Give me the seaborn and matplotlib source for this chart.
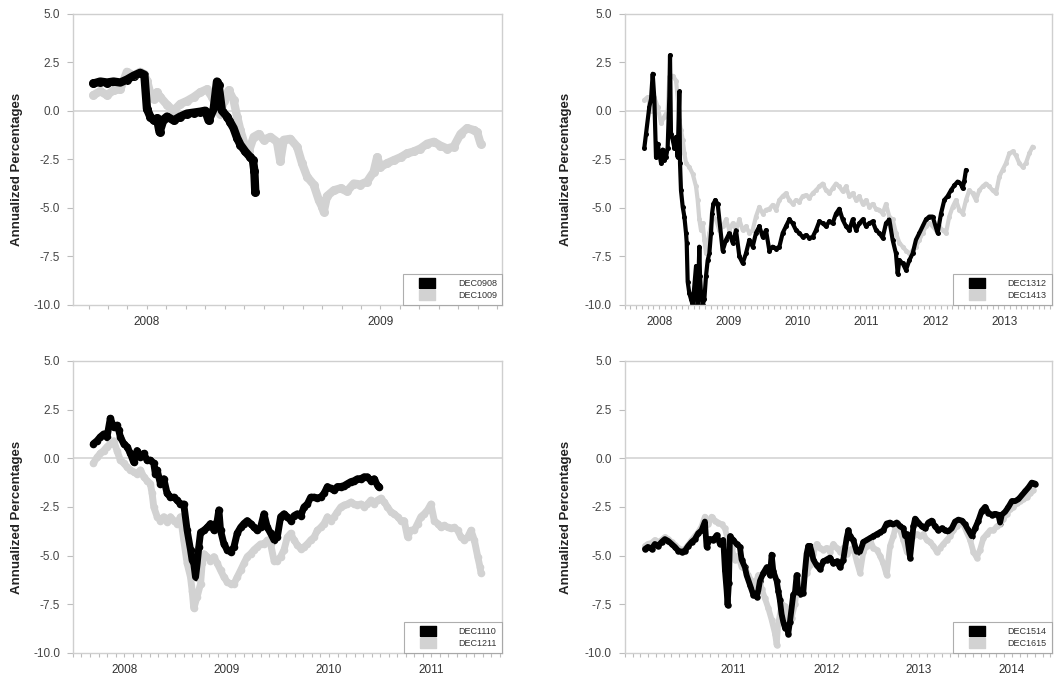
import matplotlib
matplotlib.use("Agg")
import matplotlib.pyplot as plt
import seaborn as sns
import pandas as pd
from matplotlib.lines import Line2D
from matplotlib.ticker import FixedLocator, FuncFormatter, NullFormatter

sns.set_theme(style="white")
plt.rcParams['font.family'] = ['Liberation Sans', 'DejaVu Sans']

# spreads, annualized %, x in decimal years
dec0908 = [(2008.271, 1.4), (2008.300, 1.5), (2008.329, 1.45), (2008.357, 1.5), (2008.386, 1.45),
           (2008.414, 1.6), (2008.443, 1.8), (2008.471, 1.95), (2008.489, 1.85), (2008.500, 0.1),
           (2008.514, -0.3), (2008.529, -0.5), (2008.543, -0.4), (2008.554, -1.1), (2008.571, -0.45),
           (2008.586, -0.3), (2008.614, -0.5), (2008.643, -0.3), (2008.671, -0.15), (2008.700, -0.1),
           (2008.729, -0.05), (2008.750, 0.0), (2008.764, -0.5), (2008.786, 0.1), (2008.800, 1.5),
           (2008.807, 1.3), (2008.821, 0.0), (2008.843, -0.3), (2008.857, -0.6), (2008.871, -0.9),
           (2008.886, -1.4), (2008.900, -1.75), (2008.921, -2.1), (2008.943, -2.4), (2008.954, -2.55),
           (2008.960, -3.1), (2008.964, -4.2)]
dec1009 = [(2008.271, 0.8), (2008.300, 1.0), (2008.329, 0.8), (2008.357, 1.05), (2008.386, 1.1),
           (2008.414, 2.0), (2008.443, 1.8), (2008.471, 2.0), (2008.486, 1.9), (2008.500, 1.55),
           (2008.514, 0.9), (2008.529, 0.6), (2008.543, 0.95), (2008.557, 0.7), (2008.586, 0.3),
           (2008.614, 0.0), (2008.643, 0.35), (2008.671, 0.5), (2008.700, 0.7), (2008.729, 0.95),
           (2008.757, 1.1), (2008.779, 0.7), (2008.800, 0.2), (2008.814, -0.15), (2008.829, 0.5),
           (2008.850, 1.05), (2008.871, 0.55), (2008.886, -0.3), (2008.900, -1.0), (2008.921, -1.85),
           (2008.936, -2.1), (2008.957, -1.35), (2008.979, -1.2), (2009.000, -1.5), (2009.029, -1.35),
           (2009.057, -1.6), (2009.071, -2.6), (2009.086, -1.5), (2009.114, -1.45), (2009.143, -1.85),
           (2009.164, -2.7), (2009.186, -3.4), (2009.214, -3.8), (2009.236, -4.6), (2009.250, -4.95),
           (2009.257, -5.2), (2009.271, -4.4), (2009.300, -4.1), (2009.329, -4.0), (2009.357, -4.15),
           (2009.386, -3.75), (2009.414, -3.8), (2009.443, -3.65), (2009.471, -3.15), (2009.486, -2.4),
           (2009.500, -2.9), (2009.529, -2.7), (2009.557, -2.55), (2009.586, -2.4), (2009.614, -2.2),
           (2009.643, -2.1), (2009.671, -1.95), (2009.700, -1.7), (2009.729, -1.6), (2009.757, -1.8),
           (2009.786, -1.95), (2009.814, -1.85), (2009.843, -1.2), (2009.871, -0.9), (2009.900, -1.0),
           (2009.914, -1.1), (2009.929, -1.7)]

dec1312 = [(2008.285, -1.9), (2008.309, -1.2), (2008.357, 0.2), (2008.382, 0.6), (2008.406, 1.9),
           (2008.430, 0.6), (2008.454, -2.4), (2008.478, -1.7), (2008.502, -2.2), (2008.527, -2.7),
           (2008.551, -2.0), (2008.575, -2.55), (2008.599, -2.4), (2008.623, -1.9), (2008.647, 0.7),
           (2008.657, 2.85), (2008.671, -1.2), (2008.696, -1.5), (2008.720, -1.9), (2008.744, -1.35),
           (2008.768, -2.4), (2008.792, 1.0), (2008.802, -2.7), (2008.816, -4.1), (2008.841, -4.95),
           (2008.865, -5.45), (2008.889, -6.3), (2008.899, -6.8), (2008.913, -8.8), (2008.937, -9.4),
           (2008.961, -9.7), (2008.986, -10.0), (2009.034, -8.0), (2009.058, -10.0), (2009.082, -7.0),
           (2009.092, -8.5), (2009.106, -9.4), (2009.130, -10.0), (2009.155, -9.7), (2009.179, -8.5),
           (2009.203, -7.7), (2009.227, -7.35), (2009.251, -6.3), (2009.266, -5.3), (2009.285, -4.8),
           (2009.314, -4.6), (2009.348, -4.8), (2009.420, -7.2), (2009.469, -6.65), (2009.517, -6.3),
           (2009.565, -6.8), (2009.614, -6.15), (2009.662, -7.5), (2009.710, -7.85), (2009.758, -7.35),
           (2009.807, -6.65), (2009.855, -7.0), (2009.903, -6.3), (2009.952, -5.95), (2010.000, -6.5),
           (2010.048, -6.15), (2010.097, -7.2), (2010.145, -7.0), (2010.193, -7.1), (2010.242, -7.0),
           (2010.290, -6.3), (2010.338, -5.95), (2010.386, -5.6), (2010.435, -5.8), (2010.483, -6.15),
           (2010.531, -6.3), (2010.580, -6.5), (2010.628, -6.4), (2010.676, -6.55), (2010.725, -6.5),
           (2010.773, -6.15), (2010.821, -5.7), (2010.870, -5.8), (2010.918, -5.95), (2010.966, -5.7),
           (2011.014, -5.8), (2011.063, -5.3), (2011.111, -5.05), (2011.159, -5.6), (2011.208, -5.95),
           (2011.256, -6.15), (2011.304, -5.6), (2011.353, -6.15), (2011.401, -5.8), (2011.449, -5.6),
           (2011.498, -5.95), (2011.546, -5.8), (2011.594, -5.7), (2011.643, -6.15), (2011.691, -6.3),
           (2011.739, -6.55), (2011.787, -5.8), (2011.836, -5.6), (2011.884, -6.65), (2011.932, -7.35),
           (2011.957, -8.4), (2011.981, -7.7), (2012.029, -7.85), (2012.077, -8.2), (2012.126, -7.7),
           (2012.174, -7.35), (2012.222, -6.65), (2012.271, -6.3), (2012.319, -5.95), (2012.367, -5.6),
           (2012.415, -5.45), (2012.464, -5.45), (2012.536, -6.3), (2012.585, -5.3), (2012.633, -4.6),
           (2012.681, -4.4), (2012.729, -4.1), (2012.778, -3.85), (2012.826, -3.65), (2012.874, -3.75),
           (2012.899, -4.0), (2012.923, -3.6), (2012.947, -3.05)]
dec1413 = [(2008.285, 0.55), (2008.333, 0.7), (2008.382, 0.0), (2008.430, 0.7), (2008.478, 0.2),
           (2008.527, -0.65), (2008.575, -0.3), (2008.623, 0.0), (2008.647, 1.75), (2008.696, 1.8),
           (2008.744, 1.55), (2008.768, 0.7), (2008.792, -0.5), (2008.816, -1.0), (2008.841, -1.5),
           (2008.865, -2.2), (2008.889, -2.7), (2008.937, -2.9), (2008.986, -3.25), (2009.034, -3.9),
           (2009.058, -4.6), (2009.082, -5.6), (2009.106, -6.15), (2009.130, -5.8), (2009.155, -6.65),
           (2009.179, -7.35), (2009.227, -6.3), (2009.275, -5.45), (2009.324, -5.6), (2009.372, -6.15),
           (2009.420, -5.95), (2009.469, -5.6), (2009.517, -6.15), (2009.565, -5.8), (2009.614, -6.15),
           (2009.662, -5.6), (2009.710, -6.15), (2009.758, -5.95), (2009.807, -6.3), (2009.855, -6.15),
           (2009.903, -5.45), (2009.952, -4.95), (2010.000, -5.3), (2010.048, -5.1), (2010.097, -5.05),
           (2010.145, -4.85), (2010.193, -5.1), (2010.242, -4.6), (2010.290, -4.4), (2010.338, -4.25),
           (2010.386, -4.6), (2010.435, -4.8), (2010.483, -4.6), (2010.531, -4.7), (2010.580, -4.4),
           (2010.628, -4.35), (2010.676, -4.5), (2010.725, -4.25), (2010.773, -4.1), (2010.821, -3.9),
           (2010.870, -3.75), (2010.918, -4.1), (2010.966, -4.25), (2011.014, -4.0), (2011.063, -3.75),
           (2011.111, -3.9), (2011.159, -4.15), (2011.208, -3.9), (2011.256, -4.4), (2011.304, -4.25),
           (2011.353, -4.6), (2011.401, -4.4), (2011.449, -4.8), (2011.498, -4.6), (2011.546, -4.95),
           (2011.594, -4.8), (2011.643, -5.05), (2011.691, -5.1), (2011.739, -5.3), (2011.787, -4.8),
           (2011.836, -5.45), (2011.884, -5.6), (2011.932, -6.3), (2011.981, -6.8), (2012.029, -7.0),
           (2012.077, -7.2), (2012.126, -7.35), (2012.174, -7.2), (2012.222, -7.0), (2012.271, -6.65),
           (2012.319, -6.3), (2012.367, -5.95), (2012.415, -5.8), (2012.464, -5.95), (2012.512, -6.15),
           (2012.560, -5.95), (2012.609, -6.15), (2012.657, -6.3), (2012.705, -5.45), (2012.754, -4.95),
           (2012.802, -4.6), (2012.850, -5.1), (2012.899, -5.3), (2012.947, -4.6), (2012.995, -4.1),
           (2013.043, -4.25), (2013.092, -4.6), (2013.140, -4.1), (2013.188, -3.9), (2013.237, -3.75),
           (2013.285, -3.9), (2013.333, -4.1), (2013.382, -4.25), (2013.430, -3.4), (2013.478, -3.05),
           (2013.527, -2.7), (2013.575, -2.2), (2013.623, -2.1), (2013.671, -2.3), (2013.720, -2.7),
           (2013.768, -2.9), (2013.816, -2.7), (2013.865, -2.2), (2013.913, -1.85)]

dec1110 = [(2008.200, 0.75), (2008.235, 0.9), (2008.267, 1.1), (2008.300, 1.25), (2008.333, 1.1),
           (2008.365, 2.05), (2008.398, 1.6), (2008.430, 1.7), (2008.447, 1.45), (2008.463, 1.1),
           (2008.496, 0.75), (2008.528, 0.6), (2008.561, 0.25), (2008.593, -0.2), (2008.626, 0.4),
           (2008.659, 0.05), (2008.691, 0.25), (2008.724, -0.1), (2008.756, -0.1), (2008.789, -0.25),
           (2008.805, -0.8), (2008.822, -0.6), (2008.854, -1.3), (2008.887, -1.05), (2008.919, -1.8),
           (2008.952, -2.0), (2008.985, -2.0), (2009.017, -2.15), (2009.050, -2.35), (2009.082, -2.35),
           (2009.115, -3.7), (2009.148, -4.7), (2009.164, -5.25), (2009.180, -5.4), (2009.197, -6.1),
           (2009.213, -5.4), (2009.229, -4.55), (2009.246, -3.8), (2009.278, -3.7), (2009.311, -3.55),
           (2009.343, -3.35), (2009.376, -3.7), (2009.409, -3.2), (2009.425, -2.65), (2009.441, -3.7),
           (2009.474, -4.4), (2009.506, -4.7), (2009.539, -4.8), (2009.572, -4.55), (2009.604, -3.85),
           (2009.637, -3.55), (2009.669, -3.35), (2009.702, -3.2), (2009.735, -3.35), (2009.767, -3.55),
           (2009.800, -3.7), (2009.832, -3.55), (2009.865, -2.85), (2009.898, -3.55), (2009.930, -3.85),
           (2009.963, -4.2), (2009.995, -4.05), (2010.028, -3.0), (2010.061, -2.85), (2010.093, -3.0),
           (2010.126, -3.2), (2010.158, -2.95), (2010.191, -2.85), (2010.224, -2.95), (2010.256, -2.5),
           (2010.289, -2.35), (2010.321, -2.0), (2010.354, -2.0), (2010.387, -2.05), (2010.419, -2.0),
           (2010.452, -1.8), (2010.485, -1.45), (2010.517, -1.55), (2010.550, -1.65), (2010.582, -1.45),
           (2010.615, -1.45), (2010.648, -1.4), (2010.680, -1.3), (2010.713, -1.2), (2010.745, -1.15),
           (2010.778, -1.05), (2010.811, -1.05), (2010.843, -0.95), (2010.876, -0.95), (2010.908, -1.15),
           (2010.941, -1.05), (2010.974, -1.4), (2010.990, -1.45)]
dec1211 = [(2008.200, -0.25), (2008.235, 0.05), (2008.267, 0.25), (2008.300, 0.4), (2008.333, 0.6),
           (2008.365, 0.75), (2008.398, 0.9), (2008.430, 0.4), (2008.463, -0.1), (2008.496, -0.25),
           (2008.528, -0.45), (2008.561, -0.6), (2008.593, -0.7), (2008.626, -0.8), (2008.659, -0.6),
           (2008.691, -0.95), (2008.724, -1.15), (2008.756, -1.3), (2008.773, -1.8), (2008.789, -2.5),
           (2008.822, -3.0), (2008.854, -3.2), (2008.887, -3.0), (2008.919, -3.25), (2008.952, -3.0),
           (2008.985, -3.2), (2009.017, -3.35), (2009.050, -3.0), (2009.082, -4.2), (2009.115, -5.4),
           (2009.148, -6.1), (2009.164, -6.8), (2009.180, -7.7), (2009.213, -7.1), (2009.246, -6.45),
           (2009.262, -5.4), (2009.278, -4.9), (2009.311, -5.05), (2009.343, -5.25), (2009.376, -5.05),
           (2009.409, -5.4), (2009.441, -5.75), (2009.474, -6.1), (2009.506, -6.35), (2009.539, -6.45),
           (2009.572, -6.45), (2009.604, -6.1), (2009.637, -5.75), (2009.669, -5.4), (2009.702, -5.05),
           (2009.735, -4.9), (2009.767, -4.7), (2009.800, -4.55), (2009.832, -4.4), (2009.865, -4.4),
           (2009.898, -4.2), (2009.930, -4.4), (2009.963, -5.25), (2009.995, -5.25), (2010.028, -5.05),
           (2010.061, -4.7), (2010.093, -4.05), (2010.126, -3.85), (2010.158, -4.2), (2010.191, -4.45),
           (2010.224, -4.65), (2010.256, -4.55), (2010.289, -4.4), (2010.321, -4.2), (2010.354, -4.05),
           (2010.387, -3.7), (2010.419, -3.55), (2010.452, -3.35), (2010.485, -3.0), (2010.517, -3.2),
           (2010.550, -3.0), (2010.582, -2.75), (2010.615, -2.5), (2010.648, -2.4), (2010.680, -2.35),
           (2010.713, -2.25), (2010.745, -2.35), (2010.778, -2.4), (2010.811, -2.35), (2010.843, -2.5),
           (2010.876, -2.35), (2010.908, -2.15), (2010.941, -2.35), (2010.974, -2.15), (2011.006, -2.05),
           (2011.039, -2.25), (2011.071, -2.5), (2011.104, -2.75), (2011.137, -2.85), (2011.169, -3.0),
           (2011.202, -3.2), (2011.234, -3.2), (2011.267, -4.05), (2011.300, -3.7), (2011.332, -3.7),
           (2011.365, -3.35), (2011.397, -3.0), (2011.430, -2.85), (2011.463, -2.65), (2011.495, -2.35),
           (2011.528, -3.2), (2011.560, -3.35), (2011.593, -3.55), (2011.626, -3.45), (2011.658, -3.55),
           (2011.691, -3.6), (2011.723, -3.55), (2011.756, -3.7), (2011.789, -4.05), (2011.821, -4.2),
           (2011.854, -4.05), (2011.886, -3.7), (2011.919, -4.2), (2011.952, -5.05), (2011.975, -5.6),
           (2011.984, -5.9)]

dec1514 = [(2010.550, -4.65), (2010.580, -4.55), (2010.620, -4.65), (2010.655, -4.4), (2010.690, -4.5),
           (2010.727, -4.3), (2010.763, -4.15), (2010.800, -4.25), (2010.835, -4.4), (2010.870, -4.55),
           (2010.907, -4.75), (2010.943, -4.8), (2010.978, -4.75), (2011.014, -4.5), (2011.050, -4.3),
           (2011.086, -4.15), (2011.122, -3.85), (2011.158, -3.7), (2011.194, -3.25), (2011.212, -4.55),
           (2011.248, -4.15), (2011.284, -4.2), (2011.320, -3.95), (2011.356, -4.4), (2011.392, -4.2),
           (2011.410, -5.75), (2011.428, -6.8), (2011.438, -7.55), (2011.453, -6.4), (2011.464, -4.0),
           (2011.499, -4.2), (2011.535, -4.4), (2011.571, -4.55), (2011.589, -5.2), (2011.625, -5.6),
           (2011.643, -6.0), (2011.679, -6.5), (2011.715, -7.0), (2011.751, -7.1), (2011.769, -6.8),
           (2011.787, -6.3), (2011.823, -5.9), (2011.859, -5.6), (2011.895, -6.0), (2011.913, -4.95),
           (2011.931, -5.8), (2011.967, -6.3), (2011.984, -6.8), (2012.002, -7.3), (2012.020, -8.0),
           (2012.038, -8.4), (2012.056, -8.7), (2012.074, -8.6), (2012.092, -9.0), (2012.110, -8.4),
           (2012.128, -7.7), (2012.146, -7.0), (2012.164, -6.9), (2012.182, -6.0), (2012.200, -6.9),
           (2012.218, -6.95), (2012.254, -6.9), (2012.272, -5.8), (2012.290, -4.9), (2012.308, -4.5),
           (2012.326, -4.5), (2012.344, -4.8), (2012.362, -5.2), (2012.398, -5.5), (2012.434, -5.7),
           (2012.470, -5.3), (2012.505, -5.2), (2012.541, -5.1), (2012.577, -5.4), (2012.613, -5.3),
           (2012.649, -5.6), (2012.685, -5.2), (2012.721, -4.1), (2012.739, -3.7), (2012.757, -4.0),
           (2012.793, -4.2), (2012.829, -4.8), (2012.865, -4.8), (2012.901, -4.3), (2012.937, -4.2),
           (2012.973, -4.1), (2013.009, -4.0), (2013.044, -3.9), (2013.080, -3.8), (2013.116, -3.7),
           (2013.152, -3.35), (2013.188, -3.3), (2013.224, -3.4), (2013.260, -3.3), (2013.296, -3.5),
           (2013.332, -3.6), (2013.350, -4.0), (2013.368, -3.9), (2013.404, -5.1), (2013.440, -3.5),
           (2013.458, -3.1), (2013.494, -3.3), (2013.530, -3.5), (2013.566, -3.6), (2013.601, -3.3),
           (2013.637, -3.2), (2013.673, -3.5), (2013.709, -3.7), (2013.745, -3.6), (2013.781, -3.7),
           (2013.817, -3.75), (2013.853, -3.6), (2013.889, -3.25), (2013.925, -3.15), (2013.961, -3.2),
           (2013.997, -3.4), (2014.033, -3.7), (2014.068, -4.0), (2014.104, -3.6), (2014.140, -3.2),
           (2014.176, -2.7), (2014.212, -2.5), (2014.248, -2.8), (2014.284, -2.9), (2014.320, -2.85),
           (2014.356, -2.9), (2014.374, -3.3), (2014.392, -2.9), (2014.428, -2.75), (2014.464, -2.5),
           (2014.500, -2.2), (2014.536, -2.2), (2014.572, -2.1), (2014.607, -1.9), (2014.643, -1.7),
           (2014.679, -1.5), (2014.715, -1.25), (2014.751, -1.3)]
dec1615 = [(2010.550, -4.5), (2010.580, -4.4), (2010.620, -4.35), (2010.655, -4.2), (2010.690, -4.3),
           (2010.727, -4.2), (2010.763, -4.05), (2010.800, -4.15), (2010.835, -4.3), (2010.870, -4.45),
           (2010.907, -4.6), (2010.943, -4.7), (2010.978, -4.65), (2011.014, -4.45), (2011.050, -4.2),
           (2011.086, -4.0), (2011.122, -3.8), (2011.158, -3.5), (2011.194, -3.0), (2011.230, -3.4),
           (2011.266, -3.0), (2011.302, -3.2), (2011.338, -3.3), (2011.374, -3.4), (2011.410, -3.6),
           (2011.446, -4.3), (2011.481, -4.6), (2011.517, -5.2), (2011.553, -5.0), (2011.589, -5.6),
           (2011.625, -5.6), (2011.661, -6.0), (2011.697, -6.3), (2011.733, -6.5), (2011.769, -6.0),
           (2011.805, -6.7), (2011.841, -7.2), (2011.877, -7.7), (2011.913, -8.3), (2011.949, -9.0),
           (2011.967, -9.6), (2011.984, -8.5), (2012.020, -7.5), (2012.056, -7.6), (2012.092, -8.3),
           (2012.128, -8.2), (2012.164, -7.5), (2012.182, -6.8), (2012.218, -6.6), (2012.254, -6.2),
           (2012.290, -5.9), (2012.326, -5.5), (2012.362, -4.9), (2012.398, -4.4), (2012.434, -4.6),
           (2012.470, -4.7), (2012.505, -4.6), (2012.541, -4.8), (2012.577, -4.4), (2012.613, -4.6),
           (2012.649, -4.8), (2012.685, -4.6), (2012.721, -4.9), (2012.757, -4.7), (2012.793, -4.6),
           (2012.829, -5.3), (2012.865, -5.9), (2012.901, -4.8), (2012.937, -4.5), (2012.973, -4.2),
           (2013.009, -4.6), (2013.044, -4.7), (2013.080, -5.0), (2013.116, -5.4), (2013.152, -6.0),
           (2013.188, -4.5), (2013.224, -4.0), (2013.260, -3.3), (2013.296, -3.7), (2013.332, -4.2),
           (2013.368, -4.8), (2013.404, -4.4), (2013.440, -4.0), (2013.476, -3.9), (2013.512, -4.0),
           (2013.548, -3.9), (2013.583, -4.2), (2013.619, -4.3), (2013.655, -4.5), (2013.691, -4.8),
           (2013.727, -4.6), (2013.763, -4.4), (2013.799, -4.2), (2013.835, -4.0), (2013.871, -3.7),
           (2013.907, -3.5), (2013.943, -3.3), (2013.979, -3.4), (2014.015, -3.8), (2014.051, -4.2),
           (2014.086, -4.8), (2014.122, -5.1), (2014.158, -4.7), (2014.194, -4.1), (2014.230, -3.9),
           (2014.266, -3.7), (2014.302, -3.7), (2014.338, -3.5), (2014.374, -3.4), (2014.410, -3.1),
           (2014.446, -2.85), (2014.482, -2.6), (2014.518, -2.5), (2014.554, -2.3), (2014.590, -2.2),
           (2014.625, -2.1), (2014.661, -2.0), (2014.697, -1.8), (2014.733, -1.65)]

yticks = [5.0, 2.5, 0.0, -2.5, -5.0, -7.5, -10.0]
BLACK = "#000000"
GREY = "#d2d2d2"

# each panel: near contract (black), far contract (grey)
panels = [
    dict(rect=[0.069, 0.5495, 0.406, 0.4305], xlim=(2008.183, 2010.021), years=[2008, 2009],
         near=("DEC0908", dec0908), far=("DEC1009", dec1009), s=42, lw=6.0, lab_x=-0.117),
    dict(rect=[0.591, 0.5495, 0.404, 0.4305], xlim=(2008.0, 2014.19), years=[2008, 2009, 2010, 2011, 2012, 2013],
         near=("DEC1312", dec1312), far=("DEC1413", dec1413), s=13, lw=3.0, lab_x=-0.124),
    dict(rect=[0.069, 0.0355, 0.406, 0.4313], xlim=(2008.0, 2012.19), years=[2008, 2009, 2010, 2011],
         near=("DEC1110", dec1110), far=("DEC1211", dec1211), s=30, lw=5.0, lab_x=-0.117),
    dict(rect=[0.591, 0.0355, 0.404, 0.4313], xlim=(2010.33, 2014.93), years=[2011, 2012, 2013, 2014],
         near=("DEC1514", dec1514), far=("DEC1615", dec1615), s=22, lw=4.2, lab_x=-0.124),
]

rect_marker = [(-1.6, -1), (1.6, -1), (1.6, 1), (-1.6, 1), (-1.6, -1)]

fig = plt.figure(figsize=(10.57, 6.77), dpi=100)

for p in panels:
    ax = fig.add_axes(p["rect"])
    ax.axhline(0, color="#d8d8d8", lw=1.3, zorder=0)
    for (name, pts), col in [(p["far"], GREY), (p["near"], BLACK)]:
        df = pd.DataFrame(pts, columns=["year", "pct"])
        sns.lineplot(data=df, x="year", y="pct", color=col, lw=p["lw"], sort=False,
                     estimator=None, ax=ax, solid_capstyle="round", solid_joinstyle="round")
        sns.scatterplot(data=df, x="year", y="pct", color=col, s=p["s"], linewidth=0, ax=ax)

    ax.set_xlim(*p["xlim"])
    ax.set_ylim(-10, 5)
    ax.set_yticks(yticks)
    ax.yaxis.set_major_formatter(FuncFormatter(lambda v, _: f"{v:.1f}"))

    lo, hi = p["xlim"]
    months = [y + m / 12 for y in range(2007, 2016) for m in range(12)]
    ax.xaxis.set_minor_locator(FixedLocator([m for m in months if lo <= m <= hi]))
    ax.xaxis.set_major_locator(FixedLocator([y + 0.5 for y in p["years"]]))
    ax.set_xticklabels([str(y) for y in p["years"]])
    ax.xaxis.set_minor_formatter(NullFormatter())

    ax.tick_params(axis="x", which="both", bottom=True, direction="out", length=3,
                   width=0.8, color="#bdbdbd", labelsize=8.5, labelcolor="#333333", pad=5)
    ax.tick_params(axis="y", left=True, direction="out", length=4.2, width=0.8,
                   color="#bdbdbd", labelsize=8.5, labelcolor="#444444", pad=5)
    for sp in ax.spines.values():
        sp.set_color("#cfcfcf")
        sp.set_linewidth(1.0)

    ax.set_xlabel("")
    ax.set_ylabel("Annualized Percentages", fontsize=9.5, fontweight="bold", color="#222222")
    ax.yaxis.set_label_coords(p["lab_x"], 0.465)

    handles = [Line2D([], [], ls="", marker=rect_marker, markersize=11, color=BLACK),
               Line2D([], [], ls="", marker=rect_marker, markersize=11, color=GREY)]
    leg = ax.legend(handles, [p["near"][0], p["far"][0]], loc="lower right",
                    bbox_to_anchor=(1, 0), borderaxespad=0, fontsize=6.5, frameon=True,
                    fancybox=False, edgecolor="#9a9a9a", handlelength=4.2,
                    handletextpad=1.3, borderpad=0.55, labelspacing=0.3)
    leg.get_frame().set_linewidth(0.8)
    for t in leg.get_texts():
        t.set_color("#333333")

fig.savefig("out.png", dpi=100)
